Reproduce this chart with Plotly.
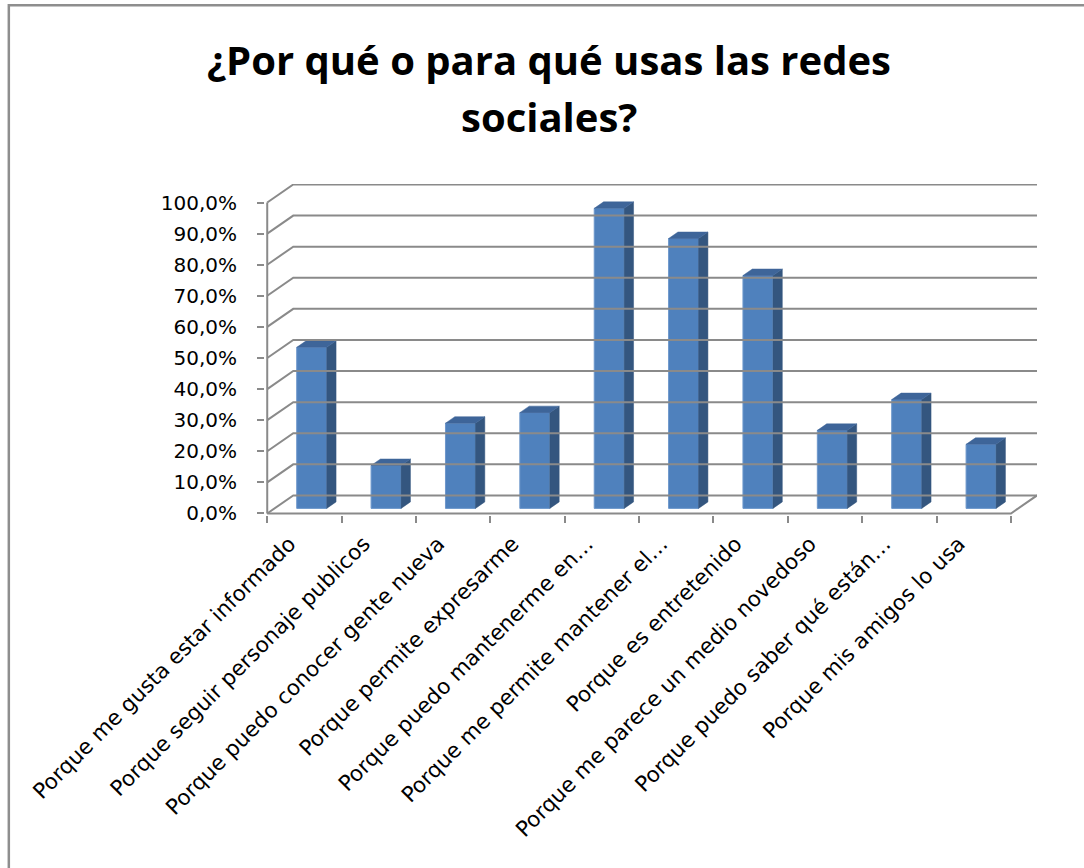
import plotly.graph_objects as go

# ---- data ----
categorias = [
    "Porque me gusta estar informado",
    "Porque seguir personaje publicos",
    "Porque puedo conocer gente nueva",
    "Porque permite expresarme",
    "Porque puedo mantenerme en…",
    "Porque me permite mantener el…",
    "Porque es entretenido",
    "Porque me parece un medio novedoso",
    "Porque puedo saber qué están…",
    "Porque mis amigos lo usa",
]
porcentajes = [51.8, 13.8, 27.4, 30.8, 96.5, 86.8, 74.9, 25.1, 35.0, 20.6]
marcas_y = [0, 10, 20, 30, 40, 50, 60, 70, 80, 90, 100]
etiquetas_y = [f"{v:.1f}%".replace(".", ",") for v in marcas_y]
titulo_1 = "¿Por qué o para qué usas las redes"
titulo_2 = "sociales?"

# ---- oblique "3-D" geometry (axis units) ----
PROF_X = 0.35      # horizontal shift of the back wall, in categories
PROF_Y = 5.8       # vertical shift of the back wall, in percent
PLANO = 0.28       # depth plane of the bar fronts (fraction of full depth)
FONDO = 0.36       # bar depth (fraction of full depth)
ANCHO = 0.403      # bar width, in categories

n = len(categorias)
x_izq, x_der = -0.5, n - 0.5
X_RANGO = [-0.53, x_der + PROF_X]
Y_RANGO = [-0.5, 105.96]

# ---- page layout in pixels ----
W, H = 1084, 868
PX_X = 74.4        # px per category
PX_Y = 3.105       # px per percent
ORIG_X, ORIG_Y = 267, 513   # pixel position of (x_izq, 0)
plot_l = ORIG_X + (X_RANGO[0] - x_izq) * PX_X
plot_r = ORIG_X + (X_RANGO[1] - x_izq) * PX_X
plot_b = ORIG_Y - Y_RANGO[0] * PX_Y
plot_t = ORIG_Y - Y_RANGO[1] * PX_Y


def paper_x(px):
    return (px - plot_l) / (plot_r - plot_l)


def paper_y(py):
    return (plot_b - py) / (plot_b - plot_t)


GRIS = "#8A8A8A"
AZUL = "#4F81BD"
AZUL_LADO = "#34567F"
AZUL_TAPA = "#3E6599"

fig = go.Figure()

# walls: gridlines on the back wall + diagonals on the side wall, front axis and floor edges
gx, gy = [], []
for v in marcas_y:
    gx += [x_izq, x_izq + PROF_X, x_der + PROF_X, None]
    gy += [v, v + PROF_Y, v + PROF_Y, None]
gx += [x_izq, x_izq, None, x_izq, x_der, x_der + PROF_X, None]
gy += [marcas_y[-1], 0, None, 0, 0, PROF_Y, None]
fig.add_trace(go.Scatter(x=gx, y=gy, mode="lines", xaxis="x2",
                         line=dict(color=GRIS, width=2),
                         hoverinfo="skip", showlegend=False))

# bar fronts
base = PLANO * PROF_Y
centros = [i + PLANO * PROF_X for i in range(n)]
fig.add_trace(go.Bar(x=centros, y=porcentajes, base=base, width=ANCHO,
                     marker=dict(color=AZUL, line=dict(color="#6D97CB", width=1)),
                     hovertext=categorias, showlegend=False))

# bar sides and tops
bdx, bdy = FONDO * PROF_X, FONDO * PROF_Y
lx, ly, tx, ty = [], [], [], []
for c, v in zip(centros, porcentajes):
    xr, xl = c + ANCHO / 2, c - ANCHO / 2
    arriba = base + v
    lx += [xr, xr + bdx, xr + bdx, xr, xr, None]
    ly += [base, base + bdy, arriba + bdy, arriba, base, None]
    tx += [xl, xl + bdx, xr + bdx, xr, xl, None]
    ty += [arriba, arriba + bdy, arriba + bdy, arriba, arriba, None]
fig.add_trace(go.Scatter(x=lx, y=ly, mode="lines", fill="toself",
                         fillcolor=AZUL_LADO, line=dict(color=AZUL_LADO, width=0.5),
                         hoverinfo="skip", showlegend=False))
fig.add_trace(go.Scatter(x=tx, y=ty, mode="lines", fill="toself",
                         fillcolor=AZUL_TAPA, line=dict(color=AZUL_TAPA, width=0.5),
                         hoverinfo="skip", showlegend=False))

FUENTE_EJES = "DejaVu Sans, Open Sans, sans-serif"
FUENTE_TITULO = "Open Sans, DejaVu Sans, sans-serif"

fig.update_layout(
    width=W, height=H,
    margin=dict(l=plot_l, r=W - plot_r, t=plot_t, b=H - plot_b, pad=0),
    paper_bgcolor="white", plot_bgcolor="white",
    showlegend=False,
    xaxis=dict(range=X_RANGO, tickmode="array", tickvals=list(range(n)),
               ticktext=categorias, tickangle=-45, ticks="",
               showgrid=False, zeroline=False, showline=False,
               tickfont=dict(family=FUENTE_EJES, size=21.5, color="black"),
               ticklabelstandoff=11, ticklabelshift=-15),
    xaxis2=dict(range=X_RANGO, overlaying="x", anchor="y", side="bottom",
                tickmode="array", tickvals=[k - 0.5 for k in range(n + 1)],
                showticklabels=False, ticks="outside", ticklen=7,
                tickcolor=GRIS, tickwidth=2,
                showgrid=False, zeroline=False, showline=False),
    yaxis=dict(range=Y_RANGO, tickmode="array", tickvals=marcas_y,
               ticktext=etiquetas_y, ticks="outside", ticklen=7,
               tickcolor=GRIS, tickwidth=2,
               showgrid=False, zeroline=False, showline=False,
               tickfont=dict(family=FUENTE_EJES, size=20, color="black"),
               ticklabelstandoff=16),
    annotations=[
        dict(text=f"<b>{titulo_1}</b>", xref="paper", yref="paper",
             x=paper_x(549), y=paper_y(60), xanchor="center", yanchor="middle",
             showarrow=False, font=dict(family=FUENTE_TITULO, size=40, color="black")),
        dict(text=f"<b>{titulo_2}</b>", xref="paper", yref="paper",
             x=paper_x(549), y=paper_y(117), xanchor="center", yanchor="middle",
             showarrow=False, font=dict(family=FUENTE_TITULO, size=40, color="black")),
    ],
    shapes=[
        dict(type="path", xref="paper", yref="paper",
             path=(f"M {paper_x(8.5)} {paper_y(H + 5)} L {paper_x(8.5)} {paper_y(5.5)} "
                   f"L {paper_x(W + 5)} {paper_y(5.5)}"),
             line=dict(color="#8E8E8E", width=2.5)),
    ],
)

fig.write_html("out.html")
